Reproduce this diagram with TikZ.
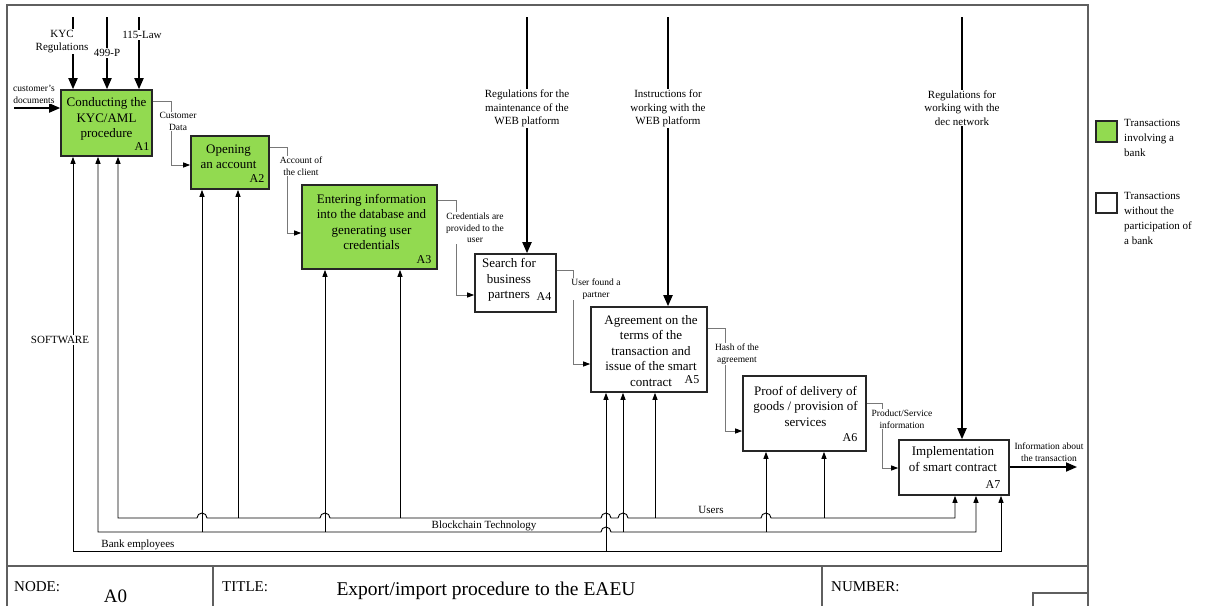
\documentclass[tikz,border=0pt]{standalone}
\usepackage{fontspec}
\setmainfont{Liberation Serif}
\usetikzlibrary{arrows.meta}
\definecolor{bankgreen}{RGB}{146,218,80}
\definecolor{flowgray}{RGB}{120,120,120}
\definecolor{framegray}{RGB}{95,95,95}
\begin{document}
\begin{tikzpicture}[x=1pt,y=-1pt,
  proc/.style={draw=black!85,line width=1.6pt,inner sep=0pt},
  bank/.style={proc,fill=bankgreen},
  nobank/.style={proc,fill=white},
  boxtxt/.style={align=center,font=\fontsize{13}{15.5}\selectfont,inner sep=0pt},
  boxid/.style={font=\fontsize{12}{14}\selectfont,inner sep=0pt},
  ctrl/.style={line width=1.8pt,-{Triangle[length=11pt,width=9pt]}},
  ctrllab/.style={align=center,font=\fontsize{11}{13.5}\selectfont,fill=white,inner sep=1pt},
  flow/.style={draw=flowgray,line width=0.9pt,-{Triangle[length=7pt,width=5pt,color=black]}},
  flowlab/.style={align=center,font=\fontsize{9.5}{11.5}\selectfont,fill=white,inner sep=1pt},
  mech/.style={line width=0.9pt},
  mecharr/.style={mech,-{Triangle[length=7pt,width=5pt]}},
  mechboth/.style={mech,{Triangle[length=7pt,width=5pt]}-{Triangle[length=7pt,width=5pt]}},
  mechlab/.style={font=\fontsize{11}{13}\selectfont,inner sep=1pt},
  frame/.style={draw=framegray,line width=1.2pt},
  foot/.style={font=\fontsize{15}{17}\selectfont,inner sep=0pt},
  legtxt/.style={align=left,font=\fontsize{11}{15}\selectfont,inner sep=0pt}
]
\useasboundingbox (0,0) rectangle (1218,606);

% ---------- frame and footer ----------
\draw[frame] (7,606) -- (7,5) -- (1088,5) -- (1088,606);
\draw[frame] (7,566) -- (1088,566);
\draw[frame] (213,566) -- (213,606);
\draw[frame] (822,566) -- (822,606);
\draw[frame] (1033,606) -- (1033,593) -- (1088,593);
\node[foot,anchor=west] (nodel) at (14,587) {NODE:};
\node[font=\fontsize{19}{21}\selectfont,inner sep=0pt] (nodev) at (115.5,596) {A0};
\node[foot,anchor=west] (titlel) at (222,587) {TITLE:};
\node[font=\fontsize{19.5}{22}\selectfont,inner sep=0pt] (titlev) at (486,591) {Export/import procedure to the EAEU};
\node[foot,anchor=west] (numl) at (831,587) {NUMBER:};

% ---------- process boxes ----------
\node[bank,minimum width=91pt,minimum height=66pt] (A1) at (106.5,123) {};
\node[bank,minimum width=78pt,minimum height=53pt] (A2) at (230,162.5) {};
\node[bank,minimum width=135pt,minimum height=84pt] (A3) at (369.5,227) {};
\node[nobank,minimum width=81pt,minimum height=58pt] (A4) at (515.5,283) {};
\node[nobank,minimum width=116pt,minimum height=85pt] (A5) at (649,349.5) {};
\node[nobank,minimum width=123pt,minimum height=75pt] (A6) at (804.5,413.5) {};
\node[nobank,minimum width=110pt,minimum height=55pt] (A7) at (954,467.5) {};

\node[boxtxt] (A1t) at (106.5,119) {Conducting the\\KYC/AML\\procedure};
\node[boxtxt] (A2t) at (228.5,157) {Opening\\an account};
\node[boxtxt] (A3t) at (371.5,222) {Entering information\\into the database and\\generating user\\credentials};
\node[boxtxt] (A4t) at (509,280) {Search for\\business\\partners};
\node[boxtxt] (A5t) at (651,351) {Agreement on the\\terms of the\\transaction and\\issue of the smart\\contract};
\node[boxtxt] (A6t) at (805.5,406) {Proof of delivery of\\goods / provision of\\services};
\node[boxtxt] (A7t) at (953,459) {Implementation\\of smart contract};

\node[boxid] (A1i) at (142,147) {A1};
\node[boxid] (A2i) at (257,179) {A2};
\node[boxid] (A3i) at (424,260) {A3};
\node[boxid] (A4i) at (544,297) {A4};
\node[boxid] (A5i) at (692,380) {A5};
\node[boxid] (A6i) at (850,438) {A6};
\node[boxid] (A7i) at (993,485) {A7};

% ---------- controls ----------
\coordinate (c1) at (73,17);
\coordinate (c2) at (107,17);
\coordinate (c3) at (139,17);
\coordinate (c4) at (527,17);
\coordinate (c5) at (668,17);
\coordinate (c7) at (962,17);
\draw[ctrl] (c1) -- (c1 |- A1.north);
\draw[ctrl] (c2) -- (c2 |- A1.north);
\draw[ctrl] (c3) -- (c3 |- A1.north);
\draw[ctrl] (c4) -- (c4 |- A4.north);
\draw[ctrl] (c5) -- (c5 |- A5.north);
\draw[ctrl] (c7) -- (c7 |- A7.north);
\node[ctrllab] (c1l) at (62,41.5) {KYC\\Regulations};
\node[ctrllab] (c2l) at (107,53) {499-P};
\node[ctrllab] (c3l) at (142,35) {115-Law};
\node[ctrllab] (c4l) at (527,108.5) {Regulations for the\\maintenance of the\\WEB platform};
\node[ctrllab] (c5l) at (668,108.5) {Instructions for\\working with the\\WEB platform};
\node[ctrllab] (c7l) at (962,108) {Regulations for\\working with the\\dec network};

% ---------- input / output ----------
\coordinate (in1) at (14,108);
\draw[ctrl] (in1) -- (in1 -| A1.west);
\node[flowlab] (in1l) at (34,94.5) {customer's\\documents};
\coordinate (out7) at (1077,467);
\draw[ctrl] (out7 -| A7.east) -- (out7);
\node[flowlab] (out7l) at (1049,452) {Information about\\the transaction};

% ---------- flows between boxes ----------
\draw[flow] (A1.east |- 0,101) -| (171,165) -- (A2.west |- 0,165);
\draw[flow] (A2.east |- 0,147) -| (287,233) -- (A3.west |- 0,233);
\draw[flow] (A3.east |- 0,200) -| (456,295) -- (A4.west |- 0,295);
\draw[flow] (A4.east |- 0,270) -| (573,364) -- (A5.west |- 0,364);
\draw[flow] (A5.east |- 0,328) -| (725,431) -- (A6.west |- 0,431);
\draw[flow] (A6.east |- 0,403) -| (882,468) -- (A7.west |- 0,468);
\node[flowlab] (f1l) at (178,121.5) {Customer\\Data};
\node[flowlab] (f2l) at (301,166) {Account of\\the client};
\node[flowlab] (f3l) at (475,228) {Credentials are\\provided to the\\user};
\node[flowlab] (f4l) at (596,289) {User found a\\partner};
\node[flowlab] (f5l) at (737,354) {Hash of the\\agreement};
\node[flowlab] (f6l) at (902,419) {Product/Service\\information};

% ---------- mechanisms ----------
% Users
\draw[mechboth] (118,518 |- A1.south) -- (118,518) -- (197,518)
  arc[start angle=180,end angle=0,radius=5pt] -- (320,518)
  arc[start angle=180,end angle=0,radius=5pt] -- (601,518)
  arc[start angle=180,end angle=0,radius=5pt] -- (618,518)
  arc[start angle=180,end angle=0,radius=5pt] -- (761,518)
  arc[start angle=180,end angle=0,radius=5pt] -- (955,518) -- (955,518 |- A7.south);
% Blockchain Technology
\draw[mechboth] (98,532 |- A1.south) -- (98,532) -- (601,532)
  arc[start angle=180,end angle=0,radius=5pt] -- (976,532) -- (976,532 |- A7.south);
% Bank employees
\draw[mechboth] (73,551 |- A1.south) -- (73,551) -- (1001,551) -- (1001,551 |- A7.south);

\draw[mecharr] (202,532) -- (202,532 |- A2.south);
\draw[mecharr] (238,518) -- (238,518 |- A2.south);
\draw[mecharr] (325,532) -- (325,532 |- A3.south);
\draw[mecharr] (400,518) -- (400,518 |- A3.south);
\draw[mecharr] (606,551) -- (606,551 |- A5.south);
\draw[mecharr] (623,532) -- (623,532 |- A5.south);
\draw[mecharr] (655,518) -- (655,518 |- A5.south);
\draw[mecharr] (766,532) -- (766,532 |- A6.south);
\draw[mecharr] (824,518) -- (824,518 |- A6.south);

\node[mechlab,fill=white] (swl) at (60,340) {SOFTWARE};
\node[mechlab] (usl) at (711,510) {Users};
\node[mechlab] (bcl) at (484,526) {Blockchain Technology};
\node[mechlab] (bel) at (138,545) {Bank employees};

% ---------- legend ----------
\node[bank,minimum width=21pt,minimum height=21pt] (legG) at (1106.5,131.5) {};
\node[legtxt,anchor=west] (legGt) at (1124,138) {Transactions\\involving a\\bank};
\node[nobank,minimum width=21pt,minimum height=20pt] (legW) at (1106.5,203) {};
\node[legtxt,anchor=west] (legWt) at (1124,218) {Transactions\\without the\\participation of\\a bank};
\end{tikzpicture}
\end{document}
